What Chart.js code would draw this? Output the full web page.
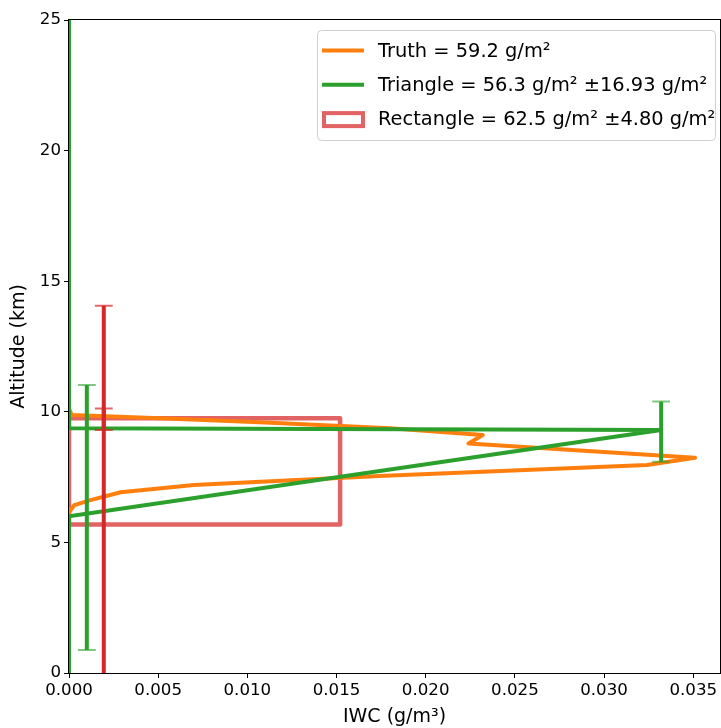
<!DOCTYPE html>
<html>
<head>
<meta charset="utf-8">
<script src="https://cdn.jsdelivr.net/npm/chart.js@4.4.1/dist/chart.umd.min.js"></script>
<style>
  body { margin: 0; background: #fff; }
</style>
</head>
<body>
<canvas id="chart" width="721" height="728"></canvas>
<script>
// IWC profile values (IWC in g/m3, altitude in km)
const truthIwc = [0, 0, 0.00015, 0.0051, 0.0107, 0.018, 0.0232, 0.0224, 0.0351, 0.0324, 0.0174, 0.007, 0.0029, 0.0012, 0.0003, 0, 0];
const truthAlt = [25, 10.13, 9.88, 9.75, 9.6, 9.37, 9.11, 8.79, 8.24, 7.96, 7.54, 7.2, 6.92, 6.62, 6.43, 6.15, 0];

const triIwc = [0, 0, 0.0332, 0, 0];
const triAlt = [25, 9.37, 9.3, 6.0, 0];

const rectIwc = [0, 0.0152, 0.0152, 0, 0];
const rectAlt = [5.69, 5.69, 9.75, 9.75, 5.69];

// error bars: position, lower end, upper end
const errIwc = [0.00195, 0.00195, 0.001, 0.0332];
const errLow = [9.3, -1, 0.88, 8.09];
const errHigh = [10.13, 14.06, 11.03, 10.39];
const errColor = ['#d62728', '#d62728', '#2ca02c', '#2ca02c'];
const capColor = ['rgba(214,39,40,0.7)', 'rgba(214,39,40,0.7)', 'rgba(44,160,44,0.6)', 'rgba(44,160,44,0.6)'];
const capHalf = 0.0005;

const labels = [
  'Truth = 59.2 g/m²',
  'Triangle = 56.3 g/m² ±16.93 g/m²',
  'Rectangle = 62.5 g/m² ±4.80 g/m²'
];

const xTicks = [0, 0.005, 0.01, 0.015, 0.02, 0.025, 0.03, 0.035];
const yTicks = [0, 5, 10, 15, 20, 25];

const pts = (xs, ys) => xs.map((x, i) => ({ x: x, y: ys[i] }));

Chart.defaults.font.family = "'DejaVu Sans', sans-serif";
Chart.defaults.color = '#000';

// higher order is drawn first (underneath)
const datasets = [
  { label: labels[2], kind: 'rect', order: 30, data: pts(rectIwc, rectAlt), borderColor: 'rgba(214,39,40,0.72)', borderWidth: 4.5 },
  { label: labels[0], kind: 'line', order: 20, data: pts(truthIwc, truthAlt), borderColor: '#ff7f0e', borderWidth: 4 },
  { label: labels[1], kind: 'line', order: 10, data: pts(triIwc, triAlt), borderColor: '#2ca02c', borderWidth: 4 }
];

errIwc.forEach((x, i) => {
  datasets.push({ label: '', order: 5 - i, data: [{ x: x, y: errLow[i] }, { x: x, y: errHigh[i] }], borderColor: errColor[i], borderWidth: 4 });
  datasets.push({ label: '', order: 5 - i, data: [
    { x: x - capHalf, y: errLow[i] }, { x: x + capHalf, y: errLow[i] }, { x: x, y: null },
    { x: x - capHalf, y: errHigh[i] }, { x: x + capHalf, y: errHigh[i] }
  ], borderColor: capColor[i], borderWidth: 2 });
});

datasets.forEach(d => {
  d.showLine = true; d.pointRadius = 0; d.fill = false; d.clip = 0;
  d.spanGaps = false; d.tension = 0; d.borderJoinStyle = 'round';
});

const spines = {
  id: 'spines',
  afterDatasetsDraw(chart) {
    const { ctx, chartArea: a } = chart;
    ctx.save();
    ctx.strokeStyle = '#000';
    ctx.lineWidth = 1;
    ctx.strokeRect(a.left - 0.5, a.top - 0.5, a.right - a.left + 1, a.bottom - a.top + 1);
    ctx.restore();
  }
};

const boxLegend = {
  id: 'boxLegend',
  afterDraw(chart) {
    const ctx = chart.ctx;
    const items = chart.data.datasets.filter(d => d.kind);
    ctx.save();
    ctx.beginPath();
    ctx.roundRect(317.5, 30.5, 398, 110, 4);
    ctx.fillStyle = 'rgba(255,255,255,0.8)';
    ctx.fill();
    ctx.strokeStyle = '#d0d0d0';
    ctx.lineWidth = 1;
    ctx.stroke();
    ctx.font = "19.4px 'DejaVu Sans'";
    ctx.textBaseline = 'middle';
    labels.forEach((lab, i) => {
      const d = items.find(it => it.label === lab);
      const cy = 50.5 + i * 34.3;
      ctx.strokeStyle = d.borderColor;
      ctx.lineWidth = 4;
      if (d.kind === 'rect') {
        ctx.strokeRect(324, cy - 6, 39, 13);
      } else {
        ctx.beginPath();
        ctx.moveTo(322, cy);
        ctx.lineTo(364, cy);
        ctx.stroke();
      }
      ctx.fillStyle = '#000';
      ctx.fillText(lab, 378, cy + 1);
    });
    ctx.restore();
  }
};

new Chart(document.getElementById('chart'), {
  type: 'line',
  data: { datasets: datasets },
  options: {
    responsive: false,
    animation: false,
    layout: { padding: { top: 20, right: 1, left: 0, bottom: 0 } },
    plugins: { legend: { display: false }, tooltip: { enabled: false } },
    scales: {
      x: {
        type: 'linear', min: 0, max: 0.0365,
        afterFit: s => { s.height = 55; },
        afterBuildTicks: s => { s.ticks = xTicks.map(v => ({ value: v })); },
        grid: { drawOnChartArea: false, drawTicks: true, tickLength: 5, color: '#000' },
        border: { display: false },
        ticks: { font: { size: 16.67 }, padding: 3, maxRotation: 0, callback: v => v.toFixed(3) },
        title: { display: true, text: 'IWC (g/m³)', font: { size: 19 }, padding: { top: 0, bottom: 0 } }
      },
      y: {
        type: 'linear', min: 0, max: 25,
        afterFit: s => { s.width = 69; },
        afterBuildTicks: s => { s.ticks = yTicks.map(v => ({ value: v })); },
        grid: { drawOnChartArea: false, drawTicks: true, tickLength: 5, color: '#000' },
        border: { display: false },
        ticks: { font: { size: 16.67 }, padding: 3, callback: v => String(v) },
        title: { display: true, text: 'Altitude (km)', font: { size: 19 }, padding: { top: 8, bottom: 0 } }
      }
    }
  },
  plugins: [spines, boxLegend]
});
</script>
</body>
</html>
